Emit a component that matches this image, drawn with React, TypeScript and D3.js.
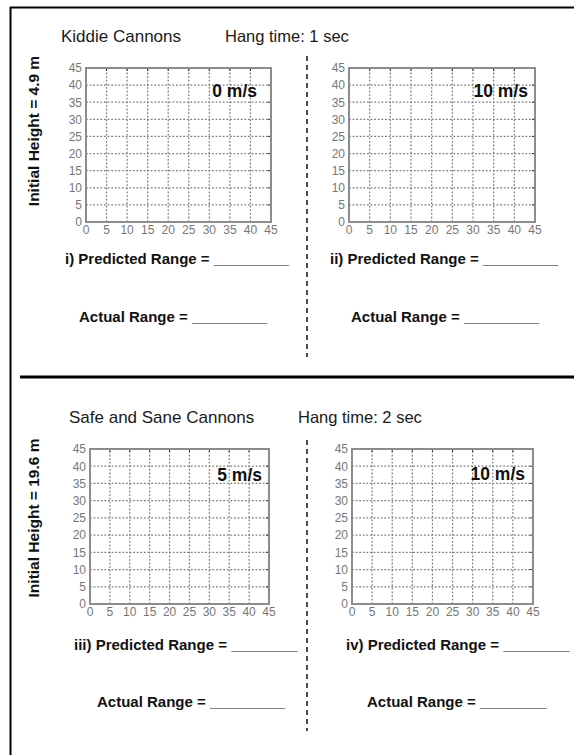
import React from "react";
import * as d3 from "d3";

// ---------- data ----------
const sectionTitles = ["Kiddie Cannons", "Safe and Sane Cannons"];
const hangTimes = ["Hang time: 1 sec", "Hang time: 2 sec"];
const heightLabels = ["Initial Height = 4.9 m", "Initial Height = 19.6 m"];
const speedLabels = ["0 m/s", "10 m/s", "5 m/s", "10 m/s"];
const rangeNumerals = ["i)", "ii)", "iii)", "iv)"];
const predictedBlanks = ["_________", "_________", "________", "________"];
const actualBlanks = ["_________", "_________", "_________", "________"];
const xTicks = [0, 5, 10, 15, 20, 25, 30, 35, 40, 45];
const yTicks = [0, 5, 10, 15, 20, 25, 30, 35, 40, 45];
const gridValues = [5, 10, 15, 20, 25, 30, 35, 40];
const axisDomain = [0, 45];

// ---------- layout ----------
const W = 574;
const H = 755;
const FONT = "'Liberation Sans', Arial, Helvetica, sans-serif";

const panels = [
  { x0: 86, x1: 271, y0: 68, y1: 222, labelInset: 14, labelBase: 97 },
  { x0: 349, x1: 535, y0: 68, y1: 222, labelInset: 7, labelBase: 97 },
  { x0: 90, x1: 269, y0: 449, y1: 604, labelInset: 7, labelBase: 481 },
  { x0: 352, x1: 533, y0: 449, y1: 604, labelInset: 8, labelBase: 480 },
];
const predictedPos = [
  { x: 65, y: 264 },
  { x: 330, y: 264 },
  { x: 74, y: 650 },
  { x: 346, y: 650 },
];
const actualPos = [
  { x: 79, y: 322 },
  { x: 351, y: 322 },
  { x: 97, y: 707 },
  { x: 367, y: 707 },
];
const sectionPos = [
  { titleX: 61, hangX: 225, base: 42, heightCy: 131, dividerTop: 56, dividerBottom: 357 },
  { titleX: 69, hangX: 298, base: 423, heightCy: 518, dividerTop: 440, dividerBottom: 731 },
];

function Panel({ i }: { i: number }) {
  const p = panels[i];
  const x = d3.scaleLinear().domain(axisDomain).range([p.x0, p.x1]);
  const y = d3.scaleLinear().domain(axisDomain).range([p.y1, p.y0]);
  const gridColor = "#7c7c7c";
  return (
    <g>
      {gridValues.map((v) => (
        <line
          key={"v" + v}
          x1={x(v)}
          x2={x(v)}
          y1={y(0)}
          y2={y(45)}
          stroke={gridColor}
          strokeWidth={1.2}
          strokeDasharray="1.8,1.8"
        />
      ))}
      {gridValues.map((v) => (
        <line
          key={"h" + v}
          x1={x(0)}
          x2={x(45)}
          y1={y(v)}
          y2={y(v)}
          stroke={gridColor}
          strokeWidth={1.2}
          strokeDasharray="1.8,1.8"
        />
      ))}
      {gridValues.map((v) => (
        <line key={"tt" + v} x1={x(v)} x2={x(v)} y1={y(45)} y2={y(45) + 3} stroke="#333" strokeWidth={1} />
      ))}
      {gridValues.map((v) => (
        <line key={"tr" + v} x1={x(45)} x2={x(45) - 3} y1={y(v)} y2={y(v)} stroke="#333" strokeWidth={1} />
      ))}
      <rect
        x={x(0)}
        y={y(45)}
        width={x(45) - x(0)}
        height={y(0) - y(45)}
        fill="none"
        stroke="#8c8c8c"
        strokeWidth={2}
      />
      {yTicks.map((v) => (
        <text
          key={"yl" + v}
          x={x(0) - 4}
          y={y(v)}
          dy="0.36em"
          textAnchor="end"
          fontSize={12}
          fill="#777"
          fontFamily={FONT}
        >
          {v}
        </text>
      ))}
      {xTicks.map((v) => (
        <text
          key={"xl" + v}
          x={x(v)}
          y={y(0) + 12}
          textAnchor="middle"
          fontSize={12}
          fill="#777"
          fontFamily={FONT}
        >
          {v}
        </text>
      ))}
      <text
        x={x(45) - p.labelInset}
        y={p.labelBase}
        textAnchor="end"
        fontSize={17.5}
        fontWeight="bold"
        fill="#111"
        fontFamily={FONT}
      >
        {speedLabels[i]}
      </text>
      <text x={predictedPos[i].x} y={predictedPos[i].y} fontSize={15} fontWeight="bold" fill="#111" fontFamily={FONT}>
        {rangeNumerals[i] + " Predicted Range = " + predictedBlanks[i]}
      </text>
      <text x={actualPos[i].x} y={actualPos[i].y} fontSize={15} fontWeight="bold" fill="#111" fontFamily={FONT}>
        {"Actual Range = " + actualBlanks[i]}
      </text>
    </g>
  );
}

export default function App() {
  return (
    <svg
      width={W}
      height={H}
      style={{ position: "absolute", left: 0, top: 0, background: "#fff" }}
    >
      <rect x={0} y={0} width={W} height={H} fill="#fff" />
      <line x1={10} x2={W} y1={7.5} y2={7.5} stroke="#000" strokeWidth={2} />
      <line x1={10.5} x2={10.5} y1={7} y2={H} stroke="#000" strokeWidth={2} />
      <line x1={20} x2={W} y1={377} y2={377} stroke="#000" strokeWidth={3} />
      {sectionTitles.map((t, s) => {
        const sp = sectionPos[s];
        return (
          <g key={"sec" + s}>
            <text x={sp.titleX} y={sp.base} fontSize={17} fill="#1a1a1a" fontFamily={FONT}>
              {t}
            </text>
            <text x={sp.hangX} y={sp.base} fontSize={16.5} fill="#1a1a1a" fontFamily={FONT}>
              {hangTimes[s]}
            </text>
            <text
              transform={`translate(39,${sp.heightCy}) rotate(-90)`}
              textAnchor="middle"
              fontSize={15.5}
              fontWeight="bold"
              fill="#111"
              fontFamily={FONT}
            >
              {heightLabels[s]}
            </text>
            <line
              x1={307}
              x2={307}
              y1={sp.dividerTop}
              y2={sp.dividerBottom}
              stroke="#111"
              strokeWidth={1.5}
              strokeDasharray="5,4"
            />
          </g>
        );
      })}
      {panels.map((_, i) => (
        <Panel key={i} i={i} />
      ))}
    </svg>
  );
}
